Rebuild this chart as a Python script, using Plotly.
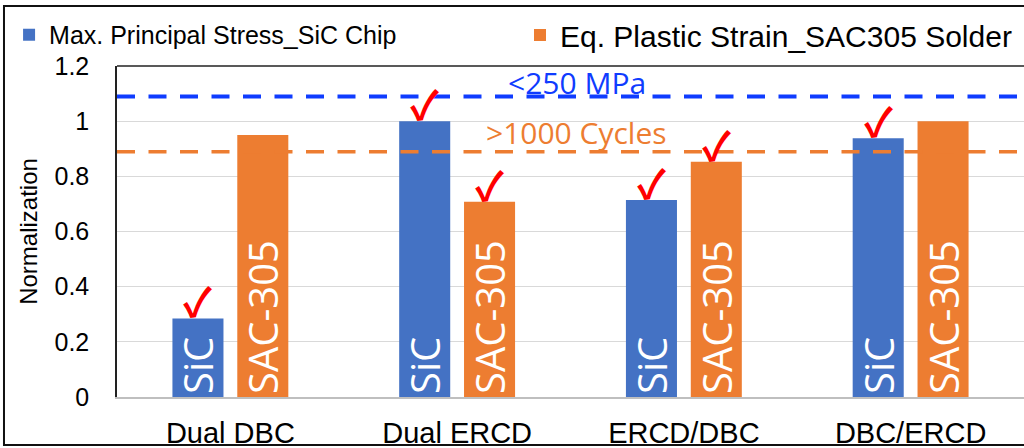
import plotly.graph_objects as go

# Categories and normalised values
configs = ["Dual DBC", "Dual ERCD", "ERCD/DBC", "DBC/ERCD"]
sic_stress = [0.285, 1.0, 0.714, 0.938]
sac_strain = [0.95, 0.708, 0.853, 1.0]
sic_ok = [True, True, True, True]
sac_ok = [False, True, True, False]

stress_limit = 1.089
cycles_limit = 0.889

series_names = ["Max. Principal Stress_SiC Chip", "Eq. Plastic Strain_SAC305 Solder"]
bar_labels = ["SiC", "SAC-305"]
y_ticks = [0, 0.2, 0.4, 0.6, 0.8, 1.0, 1.2]
y_tick_text = ["0", "0.2", "0.4", "0.6", "0.8", "1", "1.2"]

BLUE = "#4472C4"
ORANGE = "#ED7D31"
LINE_BLUE = "#0F3CFF"
BARGAP = 0.428
GROUPGAP = 0.213

fig = go.Figure()
for name, vals, color, lab, lg in [
    (series_names[0], sic_stress, BLUE, bar_labels[0], "legend"),
    (series_names[1], sac_strain, ORANGE, bar_labels[1], "legend2"),
]:
    fig.add_trace(go.Bar(
        x=configs, y=vals, name=name, marker_color=color,
        marker_line_width=0, legend=lg, showlegend=True,
        text=[lab] * len(vals), textposition="inside",
        insidetextanchor="start", textangle=-90, constraintext="none",
        textfont=dict(family="Open Sans", size=40, color="white"),
    ))

# threshold lines
for val, col, w in [(stress_limit, LINE_BLUE, 4), (cycles_limit, ORANGE, 3.5)]:
    fig.add_shape(type="line", xref="paper", x0=0, x1=1, yref="y", y0=val, y1=val,
                  line=dict(color=col, width=w, dash="18px,13.5px"), layer="above")

annots = [
    dict(x=0.507, xref="paper", y=stress_limit, yref="y", text="&lt;250 MPa",
         showarrow=False, yanchor="middle", yshift=14,
         font=dict(family="Open Sans", size=30, color=LINE_BLUE)),
    dict(x=0.507, xref="paper", y=cycles_limit, yref="y", text="&gt;1000 Cycles",
         showarrow=False, yanchor="middle", yshift=19,
         font=dict(family="Open Sans", size=30, color=ORANGE)),
]

# check marks above the qualifying bars
half = (1 - BARGAP) / 4
for i in range(len(configs)):
    for dx, vals, flags in [(-half, sic_stress, sic_ok), (half, sac_strain, sac_ok)]:
        if flags[i]:
            annots.append(dict(x=i + dx, y=vals[i], xref="x", yref="y", text="✓",
                               showarrow=False, yanchor="bottom", yshift=-13,
                               font=dict(family="Noto Sans CJK JP", size=40,
                                         weight=700, color="#FF0000")))

# plot-area top border and outer frame
fig.add_shape(type="line", xref="paper", yref="paper", x0=0, x1=1, y0=1, y1=1,
              line=dict(color="#222", width=1.5))
fig.add_shape(type="rect", xref="paper", yref="paper", x0=-0.1246, x1=1.02,
              y0=-0.145, y1=1.181, line=dict(color="#111", width=2))

fig.update_layout(
    width=1024, height=448,
    margin=dict(l=117, r=0, t=66, b=51),
    plot_bgcolor="white", paper_bgcolor="white",
    barmode="group", bargap=BARGAP, bargroupgap=GROUPGAP,
    font=dict(family="Liberation Sans", color="black"),
    annotations=annots,
    showlegend=True,
    legend=dict(orientation="h", x=-0.119, y=1.0937, xanchor="left", yanchor="middle",
                font=dict(size=25), bgcolor="rgba(0,0,0,0)"),
    legend2=dict(orientation="h", x=0.4443, y=1.0937, xanchor="left", yanchor="middle",
                 font=dict(size=30), bgcolor="rgba(0,0,0,0)"),
    xaxis=dict(showline=True, linecolor="#BFBFBF", linewidth=2, ticks="",
               automargin=False, tickfont=dict(size=29), ticklabelstandoff=9,
               range=[-0.5, 3.5]),
    yaxis=dict(range=[0, 1.2], tickvals=y_ticks, ticktext=y_tick_text,
               showgrid=True, gridcolor="#D9D9D9", gridwidth=1,
               showline=True, linecolor="#222", linewidth=1.5, zeroline=False,
               automargin=False, tickfont=dict(size=25), ticklabelstandoff=21,
               title=dict(text="Normalization", font=dict(size=24), standoff=10)),
)

fig.write_html("out.html")
